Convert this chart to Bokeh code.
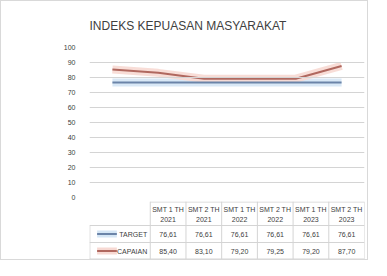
from bokeh.plotting import figure
from bokeh.models import Range1d, FixedTicker, ColumnDataSource, Column
from bokeh.core.properties import value
from bokeh.embed import file_html
from bokeh.resources import INLINE

title_text = "INDEKS KEPUASAN MASYARAKAT"
categories = ["SMT 1 TH\n2021", "SMT 2 TH\n2021", "SMT 1 TH\n2022",
              "SMT 2 TH\n2022", "SMT 1 TH\n2023", "SMT 2 TH\n2023"]
series_names = ["TARGET", "CAPAIAN"]
target = [76.61, 76.61, 76.61, 76.61, 76.61, 76.61]
capaian = [85.40, 83.10, 79.20, 79.25, 79.20, 87.70]
y_ticks = [0, 10, 20, 30, 40, 50, 60, 70, 80, 90, 100]

FONT = "Liberation Sans"
TXT = "#404040"
GRID = "#d4d4d4"
BLUE = "#6b84a8"
BLUE_HALO = "#d5e6f5"
RED = "#b0685f"
RED_HALO = "#f7d9d3"

n = len(categories)
xs = [i + 0.5 for i in range(n)]

W = 366
MBL = 81
MBR = 3

# ---- title figure ----
h = figure(width=W, height=40, output_backend="svg", toolbar_location=None,
           x_range=Range1d(0, 1), y_range=Range1d(0, 1),
           min_border_left=88, min_border_right=0, min_border_top=34, min_border_bottom=0)
h.title.text = title_text
h.title.align = "left"
h.title.text_font = FONT
h.title.text_font_size = "12px"
h.title.text_font_style = "normal"
h.title.text_color = TXT
h.title.standoff = 5
h.axis.visible = False
h.grid.visible = False
h.outline_line_color = None

# ---- chart figure ----
p = figure(width=W, height=160, output_backend="svg", toolbar_location=None,
           x_range=Range1d(0, n), y_range=Range1d(0, 100),
           min_border_left=MBL, min_border_right=MBR, min_border_top=6, min_border_bottom=4)
p.outline_line_color = None
p.xaxis.visible = False
p.xgrid.visible = False
tk = FixedTicker(ticks=y_ticks)
p.yaxis.ticker = tk
p.ygrid.ticker = tk
p.yaxis.axis_line_color = None
p.yaxis.major_tick_line_color = None
p.yaxis.minor_tick_line_color = None
p.yaxis.major_label_text_font = FONT
p.yaxis.major_label_text_font_size = "7px"
p.yaxis.major_label_text_color = TXT
p.yaxis.major_label_standoff = 8
p.ygrid.grid_line_color = GRID
p.ygrid.grid_line_alpha = 1
p.ygrid.grid_line_width = 1
p.ygrid.level = "glyph"

src = ColumnDataSource(dict(x=xs, target=target, capaian=capaian))
p.line("x", "target", source=src, line_color=BLUE_HALO, line_width=8, line_alpha=0.9)
p.line("x", "capaian", source=src, line_color=RED_HALO, line_width=8, line_alpha=0.9)
p.line("x", "target", source=src, line_color=BLUE, line_width=2)
p.line("x", "capaian", source=src, line_color=RED, line_width=2)

# ---- data table figure ----
cat_w = (W - MBL - MBR) / n
frame_left_page = 9 + MBL
left_ext = (MBL - 1) / cat_w
TH = 58
t = figure(width=W, height=TH, output_backend="svg", toolbar_location=None,
           x_range=Range1d(-left_ext, n), y_range=Range1d(TH, 0),
           min_border_left=1, min_border_right=MBR, min_border_top=0, min_border_bottom=0)
t.axis.visible = False
t.grid.visible = False
t.outline_line_color = None

hdr_h = 24
row_h = (TH - hdr_h) / 2
# vertical cell borders
t.segment(x0=list(range(n + 1)), y0=[0] * (n + 1), x1=list(range(n + 1)), y1=[TH] * (n + 1),
          line_color=GRID, line_width=1)
t.segment(x0=[-left_ext + 0.01], y0=[hdr_h], x1=[-left_ext + 0.01], y1=[TH], line_color=GRID, line_width=1)
# horizontal borders
t.segment(x0=[0], y0=[0.5], x1=[n], y1=[0.5], line_color=GRID, line_width=1)
t.segment(x0=[-left_ext, -left_ext, -left_ext], y0=[hdr_h, hdr_h + row_h, TH - 0.5],
          x1=[n, n, n], y1=[hdr_h, hdr_h + row_h, TH - 0.5], line_color=GRID, line_width=1)

t.text(x=xs, y=[hdr_h / 2 + 1] * n, text=categories, text_align="center", text_baseline="middle",
       text_font=value(FONT), text_font_size="7px", text_color=TXT, text_line_height=1.4)
fmt = lambda v: f"{v:.2f}".replace(".", ",")
t.text(x=xs, y=[hdr_h + row_h / 2] * n, text=[fmt(v) for v in target], text_align="center",
       text_baseline="middle", text_font=value(FONT), text_font_size="7px", text_color=TXT)
t.text(x=xs, y=[hdr_h + row_h * 1.5] * n, text=[fmt(v) for v in capaian], text_align="center",
       text_baseline="middle", text_font=value(FONT), text_font_size="7px", text_color=TXT)

# legend keys in table
k0 = (20 - frame_left_page) / cat_w
k1 = (46 - frame_left_page) / cat_w
lx = (86 - frame_left_page) / cat_w
ys = [hdr_h + row_h / 2, hdr_h + row_h * 1.5]
t.segment(x0=[k0], y0=[ys[0]], x1=[k1], y1=[ys[0]], line_color=BLUE_HALO, line_width=7)
t.segment(x0=[k0], y0=[ys[1]], x1=[k1], y1=[ys[1]], line_color=RED_HALO, line_width=7)
t.segment(x0=[k0], y0=[ys[0]], x1=[k1], y1=[ys[0]], line_color=BLUE, line_width=2)
t.segment(x0=[k0], y0=[ys[1]], x1=[k1], y1=[ys[1]], line_color=RED, line_width=2)
t.text(x=[lx, lx], y=ys, text=series_names, text_align="right", text_baseline="middle",
       text_font=value(FONT), text_font_size="7px", text_color=TXT)

layout = Column(h, p, t, spacing=0)
layout.styles = {"border": "1px solid #d9d9d9"}

open("out.html", "w").write(file_html(layout, INLINE))
